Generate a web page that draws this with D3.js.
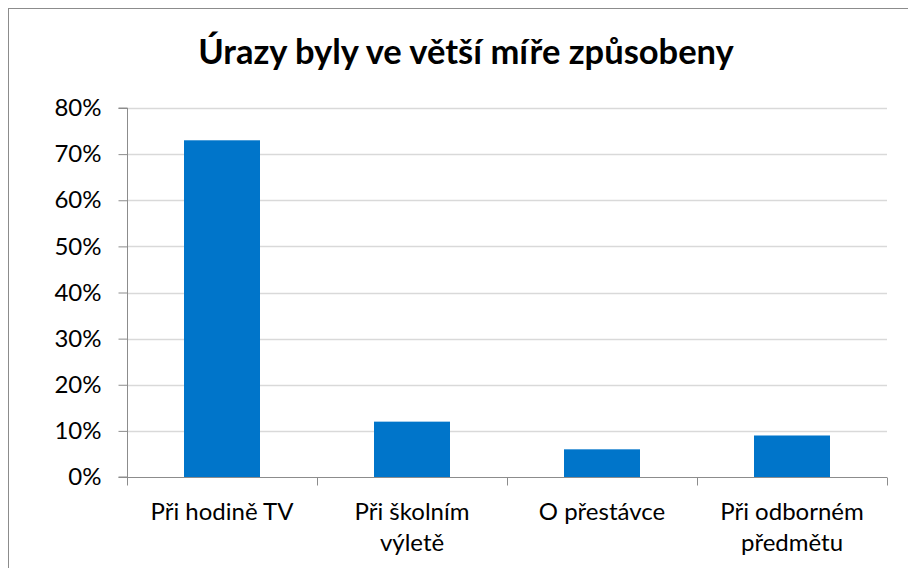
<html>

<head>
    <style>
        body { margin: 0; background: #fff; }
        text { font-family: Lato, "Open Sans", sans-serif; fill: #000; }
    </style>
</head>

<body>
    <svg id="svg-container" width="908" height="568">
        <g id="grid"></g>
        <g id="body"></g>
        <g id="yaxis"></g>
        <g id="xaxis"></g>
    </svg>
</body>
<script src="https://d3js.org/d3.v7.min.js"></script>
<script>
    // data
    let chartTitle = "Úrazy byly ve větší míře způsobeny"
    let categories = ["Při hodině TV", "Při školním výletě", "O přestávce", "Při odborném předmětu"]
    let labelLines = [["Při hodině TV"], ["Při školním", "výletě"], ["O přestávce"], ["Při odborném", "předmětu"]]
    let values = [0.73, 0.12, 0.06, 0.09]
    let yTicks = [0, 0.1, 0.2, 0.3, 0.4, 0.5, 0.6, 0.7, 0.8]

    let svg = d3.select("#svg-container")
    let plotLeft = 127, plotRight = 887, plotTop = 108, plotBottom = 477

    // outer chart border (runs off the right/bottom edge)
    svg.append("rect")
        .attr("x", 8.5).attr("y", 8.5)
        .attr("width", 1000).attr("height", 1000)
        .attr("fill", "none")
        .attr("stroke", "#8c8c8c")
        .attr("stroke-width", 1)

    svg.append("text")
        .attr("x", 466).attr("y", 64)
        .attr("text-anchor", "middle")
        .style("font-weight", "bold")
        .style("font-size", "34.5px")
        .text(chartTitle)

    let yScale = d3.scaleLinear().domain([0, 0.8]).range([plotBottom, plotTop])
    let xScale = d3.scaleBand().domain(categories).range([plotLeft, plotRight]).paddingInner(0.6).paddingOuter(0.3)
    let bandStep = (plotRight - plotLeft) / categories.length

    // gridlines
    d3.select("#grid").selectAll("line")
        .data(yTicks.filter(d => d > 0))
        .join("line")
        .attr("x1", plotLeft).attr("x2", plotRight)
        .attr("y1", d => Math.round(yScale(d)) + 0.5)
        .attr("y2", d => Math.round(yScale(d)) + 0.5)
        .attr("stroke", "#d9d9d9")
        .attr("stroke-width", 1.3)

    // bars
    d3.select("#body").selectAll("rect")
        .data(values)
        .join("rect")
        .attr("x", (d, i) => xScale(categories[i]))
        .attr("width", xScale.bandwidth())
        .attr("y", d => yScale(d))
        .attr("height", d => plotBottom - yScale(d))
        .attr("fill", "#0075ca")

    // y axis
    let yAxis = d3.axisLeft(yScale)
        .tickValues(yTicks)
        .tickFormat(d => Math.round(d * 100) + "%")
        .tickSize(9)
        .tickPadding(17)
    let yg = d3.select("#yaxis")
        .attr("transform", `translate(${plotLeft + 0.5},0)`)
        .call(yAxis)
    yg.select(".domain").attr("stroke", "#8c8c8c").attr("d", `M-9,${plotTop}H0V${plotBottom}H-9`)
    yg.selectAll(".tick line").attr("stroke", "#8c8c8c")
    yg.selectAll(".tick text")
        .style("font-size", "24px")
        .attr("font-family", null)

    // x axis with ticks between categories
    let xg = d3.select("#xaxis")
        .attr("transform", `translate(0,${plotBottom + 0.5})`)
    xg.append("line")
        .attr("x1", plotLeft).attr("x2", plotRight)
        .attr("stroke", "#8c8c8c")
    xg.selectAll(".sep")
        .data(d3.range(categories.length + 1))
        .join("line")
        .attr("class", "sep")
        .attr("x1", i => Math.round(plotLeft + i * bandStep) + 0.5)
        .attr("x2", i => Math.round(plotLeft + i * bandStep) + 0.5)
        .attr("y1", 0).attr("y2", 8)
        .attr("stroke", "#8c8c8c")

    let labels = xg.selectAll(".lab")
        .data(labelLines)
        .join("text")
        .attr("class", "lab")
        .attr("text-anchor", "middle")
        .style("font-size", "24px")
        .attr("x", (d, i) => xScale(categories[i]) + xScale.bandwidth() / 2)
        .attr("y", 42)
    labels.selectAll("tspan")
        .data(d => d)
        .join("tspan")
        .attr("x", function () { return this.parentNode.getAttribute("x") })
        .attr("dy", (d, i) => i === 0 ? 0 : 31)
        .text(d => d)
</script>

</html>
